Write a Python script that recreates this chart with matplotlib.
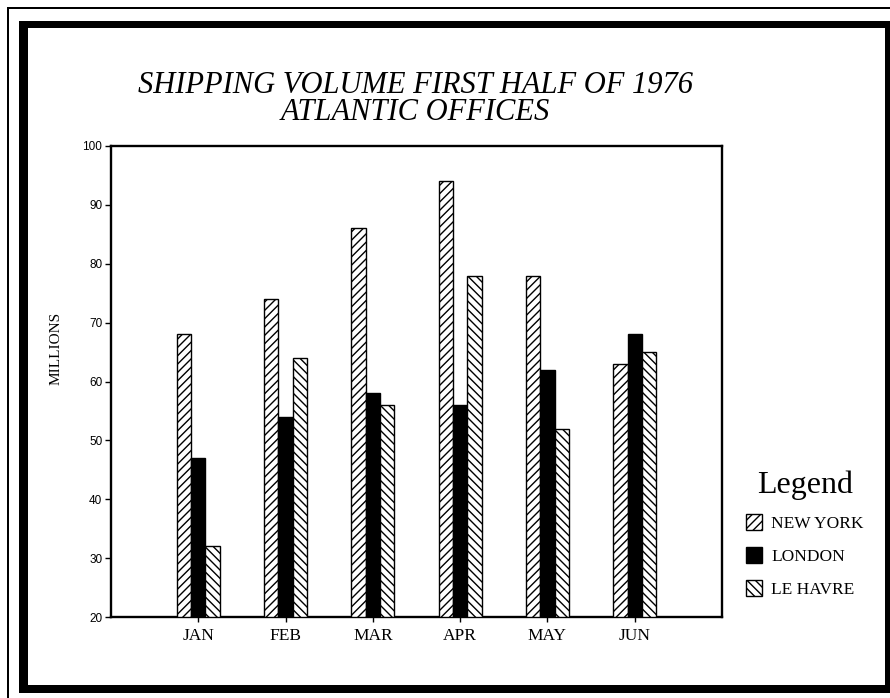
import matplotlib
matplotlib.use("Agg")
import matplotlib.pyplot as plt
from matplotlib.patches import Rectangle
import numpy as np

months = ["JAN", "FEB", "MAR", "APR", "MAY", "JUN"]
new_york = [68, 74, 86, 94, 78, 63]
london = [47, 54, 58, 56, 62, 68]
le_havre = [32, 64, 56, 78, 52, 65]
series_names = ["NEW YORK", "LONDON", "LE HAVRE"]
y_ticks = [20, 30, 40, 50, 60, 70, 80, 90, 100]

W, H = 890, 698
fig = plt.figure(figsize=(W / 100, H / 100), dpi=100)
fig.patch.set_facecolor("white")


def fx(px):
    return px / W


def fy(py):
    return 1 - py / H


# decorative page frame (pixel geometry converted to figure fractions)
def frame_rect(x0, y0, x1, y1):
    fig.add_artist(Rectangle((fx(x0), fy(y1)), fx(x1) - fx(x0), fy(y0) - fy(y1),
                             transform=fig.transFigure, facecolor="black",
                             edgecolor="none", zorder=5))


frame_rect(7, 7, 9, H)        # thin outer left rule
frame_rect(7, 7, W, 9)        # thin outer top rule
frame_rect(19, 21, 28, 693)   # heavy left
frame_rect(19, 21, W, 28)     # heavy top
frame_rect(885, 21, W, 693)   # heavy right
frame_rect(19, 685, W, 693)   # heavy bottom

ax = fig.add_axes([fx(111), fy(617), fx(722) - fx(111), fy(146) - fy(617)])

x = np.arange(1, len(months) + 1)
bw = 0.164
bar_kw = dict(width=bw, edgecolor="black", linewidth=1.0, zorder=3)
b1 = ax.bar(x - bw, np.array(new_york) - 20, bottom=20, facecolor="white",
            hatch="////", label=series_names[0], **bar_kw)
b2 = ax.bar(x, np.array(london) - 20, bottom=20, facecolor="black",
            label=series_names[1], **bar_kw)
b3 = ax.bar(x + bw, np.array(le_havre) - 20, bottom=20, facecolor="white",
            hatch="\\\\\\\\", label=series_names[2], **bar_kw)

ax.set_xlim(0, 7)
ax.set_ylim(20, 100)
ax.set_yticks(y_ticks)
ax.set_yticklabels([str(v) for v in y_ticks], fontfamily="Liberation Sans",
                   fontsize=8.5)
ax.set_xticks(x)
ax.set_xticklabels(months, fontfamily="Liberation Serif", fontsize=12.5)
ax.tick_params(axis="y", direction="out", length=4.3, width=1.0, pad=2)
ax.tick_params(axis="x", direction="out", length=3.6, width=1.0, pad=4)
for s in ax.spines.values():
    s.set_linewidth(1.7)

ax.set_ylabel("MILLIONS", fontfamily="Liberation Serif", fontsize=11)
ax.yaxis.set_label_coords(-0.08, 0.571)

fig.text(fx(415), fy(99),
         "SHIPPING VOLUME FIRST HALF OF 1976\nATLANTIC OFFICES",
         ha="center", va="center", multialignment="center",
         linespacing=0.88, fontfamily="Liberation Serif",
         style="italic", fontsize=22)

leg = ax.legend(handles=[b1, b2, b3], labels=series_names, title="Legend",
                loc="upper left", bbox_to_anchor=(fx(746), fy(470)),
                bbox_transform=fig.transFigure, frameon=False,
                prop={"family": "Liberation Serif", "size": 12.5},
                title_fontproperties={"family": "Liberation Serif", "size": 23},
                handlelength=0.95, handleheight=1.05, handletextpad=0.5,
                labelspacing=0.85, borderaxespad=0, borderpad=0)

fig.savefig("out.png", dpi=100, facecolor="white")
